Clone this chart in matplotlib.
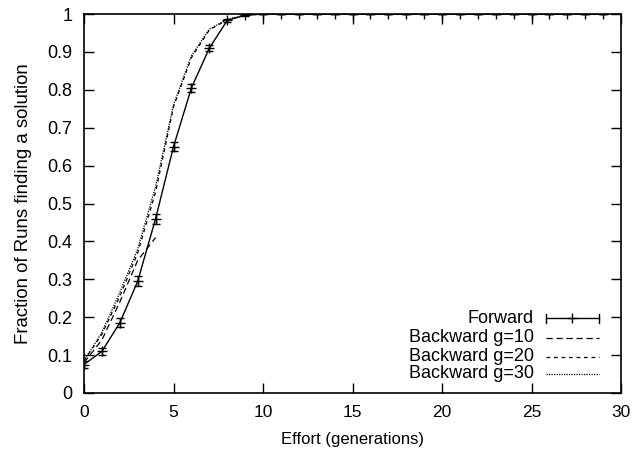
import numpy as np
import matplotlib
matplotlib.use("Agg")
import matplotlib.pyplot as plt

plt.rcParams['font.family'] = ['Liberation Sans', 'DejaVu Sans']
plt.rcParams['font.size'] = 11

# Forward runs, with error bars
fwd_x = list(range(30))
fwd_y = [0.075, 0.11, 0.185, 0.295, 0.46, 0.65, 0.805, 0.91, 0.983, 0.997] + [1.0] * 20
fwd_err = [0.01, 0.01, 0.012, 0.013, 0.013, 0.012, 0.01, 0.008, 0.004, 0.002] + [0.0] * 20

# Backward runs
b10_x = [0, 1, 2, 3, 4]
b10_y = [0.08, 0.14, 0.24, 0.35, 0.41]

b20_x = list(range(30))
b20_y = [0.085, 0.155, 0.255, 0.37, 0.53, 0.755, 0.885, 0.958, 0.985, 0.997] + [1.0] * 20

b30_x = list(range(30))
b30_y = [0.085, 0.16, 0.265, 0.38, 0.545, 0.76, 0.89, 0.96, 0.986, 0.997] + [1.0] * 20

labels = ["Forward", "Backward g=10", "Backward g=20", "Backward g=30"]

fig = plt.figure(figsize=(6.34, 4.53), dpi=100)
ax = fig.add_axes([0.1325, 0.1325, 0.847, 0.8365])

ax.errorbar(fwd_x, fwd_y, yerr=fwd_err, color='black', lw=1, marker='+', ms=7,
            capsize=3, elinewidth=1, capthick=1)
ax.plot(b10_x, b10_y, color='black', lw=0.9, linestyle=(0, (5, 3)))
ax.plot(b20_x, b20_y, color='black', lw=0.9, linestyle=(0, (3, 3)))
ax.plot(b30_x, b30_y, color='black', lw=0.9, linestyle=(0, (1, 1)))

ax.set_xlim(0, 30)
ax.set_ylim(0, 1)
ax.set_xticks(range(0, 31, 5))
ax.set_yticks(np.arange(0, 1.01, 0.1))
ax.set_yticklabels(['0'] + [f'{v:.1f}' for v in np.arange(0.1, 0.95, 0.1)] + ['1'])
ax.tick_params(direction='in', length=7, width=1, top=True, right=True)
ax.tick_params(axis='x', labelsize=12.5, pad=9)
ax.tick_params(axis='y', labelsize=13, pad=8.5)
for s in ax.spines.values():
    s.set_linewidth(1.2)
ax.set_xlabel("Effort (generations)", fontsize=12, labelpad=8)
ax.set_ylabel("Fraction of Runs finding a solution", fontsize=13.4, labelpad=11)

# gnuplot-style key: right aligned text, sample to the right
tx = 0.838
lx0, lx1 = 0.860, 0.959
ys = [0.197, 0.146, 0.096, 0.051]
for lab, yy in zip(labels, ys):
    ax.text(tx, yy, lab, transform=ax.transAxes, ha='right', va='center', fontsize=13)
ax.plot([lx0, lx1], [ys[0], ys[0]], transform=ax.transAxes, color='black', lw=1)
for xx in (lx0, lx1):
    ax.plot([xx, xx], [ys[0] - 0.012, ys[0] + 0.012], transform=ax.transAxes, color='black', lw=1)
ax.plot([(lx0 + lx1) / 2], [ys[0]], transform=ax.transAxes, color='black', marker='+', ms=7)
ax.plot([lx0, lx1], [ys[1]] * 2, transform=ax.transAxes, color='black', lw=0.9, linestyle=(0, (5, 3)))
ax.plot([lx0, lx1], [ys[2]] * 2, transform=ax.transAxes, color='black', lw=0.9, linestyle=(0, (3, 3)))
ax.plot([lx0, lx1], [ys[3]] * 2, transform=ax.transAxes, color='black', lw=0.9, linestyle=(0, (1, 1)))

fig.savefig("out.png", dpi=100)
